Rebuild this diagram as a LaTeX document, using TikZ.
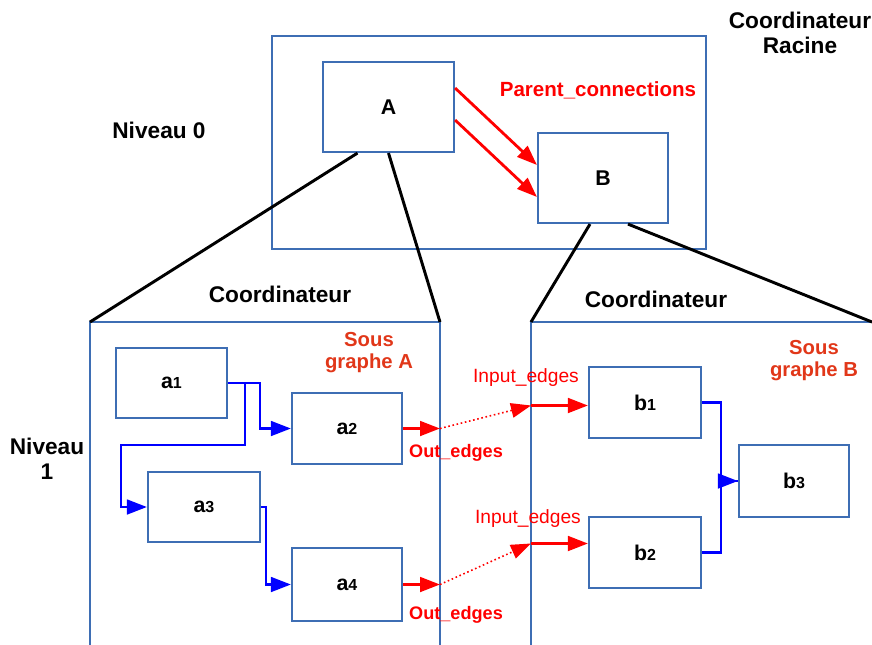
\documentclass[tikz,border=0pt]{standalone}
\usepackage{fontspec}
\setmainfont{Liberation Sans}
\usetikzlibrary{arrows.meta,calc}
\definecolor{boxblue}{RGB}{62,110,180}
\definecolor{sousred}{RGB}{225,55,25}
\newcommand{\sz}[2]{\fontsize{#1}{#2}\selectfont}
\newcommand{\nd}[2]{#1{\sz{12}{14}#2}}
\tikzset{
  box/.style={draw=boxblue, line width=1.6pt, inner sep=0pt, font=\sz{16}{19}\bfseries},
  frame/.style={draw=boxblue, line width=1.6pt},
  blk/.style={black, line width=2.2pt},
  tip/.style={-{Triangle[length=15pt,width=11pt]}},
  redarrow/.style={red, line width=2.1pt, tip},
  reddot/.style={red, line width=1.2pt, dotted, tip},
  bluearrow/.style={blue, line width=2pt, tip},
  blueline/.style={blue, line width=2pt},
  big/.style={font=\sz{17}{19}\bfseries, align=center},
  sous/.style={font=\sz{15.2}{16.5}\bfseries, text=sousred, align=center},
  outl/.style={font=\sz{13.6}{16}\bfseries, text=red},
  inl/.style={font=\sz{14.4}{16}, text=red},
}
\begin{document}
\begin{tikzpicture}[x=0.75pt,y=-0.75pt]
\useasboundingbox (0,0) rectangle (872,644);
% root frame
\draw[frame] (272,36) rectangle (706,249);
\node[box, minimum width=98.25pt, minimum height=67.5pt] (A) at (388.5,107) {A};
\node[box, minimum width=97.5pt, minimum height=67.5pt] (B) at (603,178) {B};
\node[font=\sz{15.4}{18}\bfseries, text=red] (pc) at (598,90) {Parent\_connections};
\node[big] (racine) at (800,33) {Coordinateur\\Racine};
\node[big] (niv0) at (159,130) {Niveau 0};
\draw[redarrow] ($(A.east)+(0,-19)$) -- ($(B.west)+(0,-13)$);
\draw[redarrow] ($(A.east)+(0,13)$) -- ($(B.west)+(0,19)$);
% subgraph frames
\coordinate (SAtl) at (90,322);
\coordinate (SAtr) at (440,322);
\coordinate (SBtl) at (531,322);
\coordinate (SBtr) at (872,322);
\draw[frame] (90,660) -- (SAtl) -- (SAtr) -- (440,660);
\draw[frame] (531,660) -- (SBtl) -- (880,322);
% black lines
\draw[blk] ($(A.south)+(-31,0)$) -- (SAtl);
\draw[blk] (A.south) -- (SAtr);
\draw[blk] ($(B.south)+(-13,0)$) -- (SBtl);
\draw[blk] ($(B.south)+(25,0)$) -- (SBtr);
\node[big] (coA) at (280,294) {Coordinateur};
\node[big] (coB) at (656,299) {Coordinateur};
\node[big] (niv1) at (47,459) {Niveau\\1};
\node[sous] (sgA) at (369,353) {Sous\\graphe A};
\node[sous] (sgB) at (814,361) {Sous\\graphe B};
% subgraph A nodes
\node[box, minimum width=83.25pt, minimum height=52.5pt] (a1) at (171.5,383) {\nd{a}{1}};
\node[box, minimum width=82.5pt, minimum height=53.25pt] (a2) at (347,428.5) {\nd{a}{2}};
\node[box, minimum width=84pt, minimum height=52.5pt] (a3) at (204,507) {\nd{a}{3}};
\node[box, minimum width=82.5pt, minimum height=54.75pt] (a4) at (347,584.5) {\nd{a}{4}};
% subgraph B nodes
\node[box, minimum width=84pt, minimum height=53.25pt] (b1) at (645,402.5) {\nd{b}{1}};
\node[box, minimum width=84pt, minimum height=53.25pt] (b2) at (645,552.5) {\nd{b}{2}};
\node[box, minimum width=82.5pt, minimum height=54pt] (b3) at (794,481) {\nd{b}{3}};
% blue connectors
\draw[bluearrow] (a1.east) -- ++(32,0) |- (a2.west);
\draw[bluearrow] ($(a1.east)+(17,0)$) -- ($(a1.east)+(17,62)$) -| ($(a3.west)+(-26,0)$) -- (a3.west);
\draw[bluearrow] (a3.east) -- ++(5,0) |- (a4.west);
\draw[blueline] (b1.east) -- ++(19,0) |- (b3.west);
\draw[bluearrow] (b2.east) -- ++(19,0) |- (b3.west);
% red edges
\coordinate (o1) at (a2.east -| SAtr);
\coordinate (o2) at (a4.east -| SAtr);
\coordinate (i1) at ($(b1.west -| SBtl)+(0,3)$);
\coordinate (i2) at ($(b2.west -| SBtl)+(0,-9)$);
\draw[redarrow] (a2.east) -- (o1);
\draw[redarrow] (a4.east) -- (o2);
\draw[reddot] (o1) -- (i1);
\draw[reddot] (o2) -- (i2);
\draw[redarrow] (i1) -- (b1.west |- i1);
\draw[redarrow] (i2) -- (b2.west |- i2);
\node[outl] (ol1) at (456,453) {Out\_edges};
\node[outl] (ol2) at (456,615) {Out\_edges};
\node[inl] (il1) at (526,378) {Input\_edges};
\node[inl] (il2) at (528,519) {Input\_edges};
\end{tikzpicture}
\end{document}
